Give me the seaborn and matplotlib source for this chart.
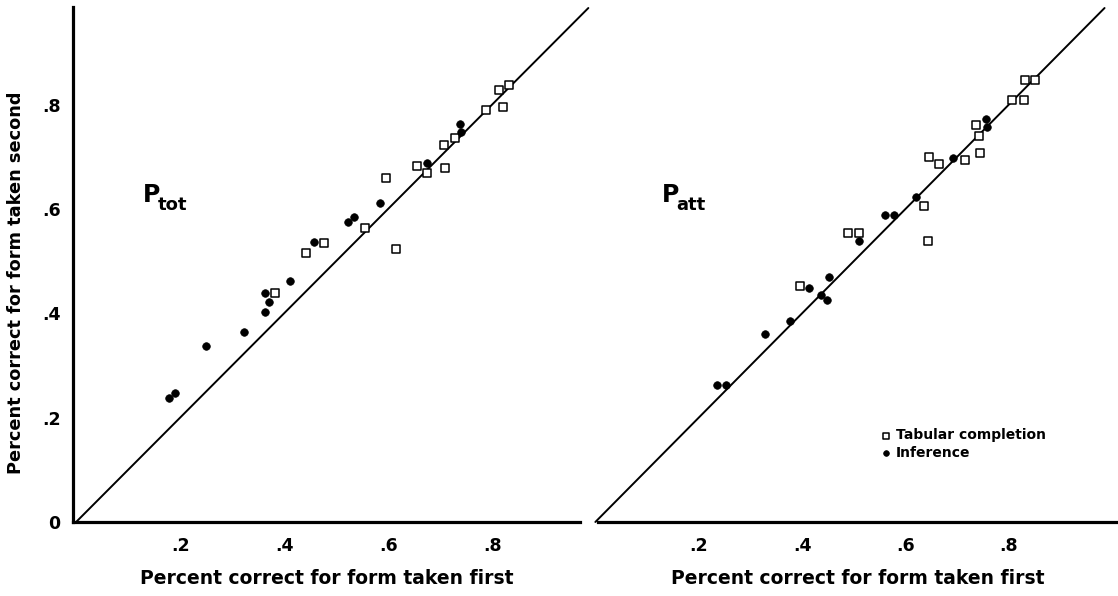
import matplotlib
matplotlib.use("Agg")
import matplotlib.pyplot as plt
import seaborn as sns
import pandas as pd

# values (proportion correct)
ptot_inf_first = [0.179, 0.190, 0.250, 0.323, 0.364, 0.371, 0.364, 0.411, 0.458, 0.523, 0.535, 0.584, 0.674, 0.739, 0.741]
ptot_inf_second = [0.237, 0.247, 0.337, 0.365, 0.403, 0.421, 0.438, 0.462, 0.536, 0.575, 0.584, 0.612, 0.688, 0.762, 0.747]
ptot_tab_first = [0.382, 0.443, 0.476, 0.555, 0.616, 0.595, 0.655, 0.674, 0.709, 0.707, 0.728, 0.788, 0.813, 0.832, 0.820]
ptot_tab_second = [0.438, 0.516, 0.534, 0.564, 0.524, 0.659, 0.683, 0.669, 0.679, 0.723, 0.735, 0.789, 0.828, 0.837, 0.796]

patt_inf_first = [0.235, 0.252, 0.328, 0.376, 0.413, 0.451, 0.437, 0.449, 0.510, 0.560, 0.577, 0.620, 0.692, 0.756, 0.757]
patt_inf_second = [0.262, 0.262, 0.361, 0.386, 0.448, 0.469, 0.435, 0.425, 0.539, 0.589, 0.589, 0.623, 0.697, 0.772, 0.757]
patt_tab_first = [0.396, 0.489, 0.510, 0.635, 0.643, 0.646, 0.665, 0.715, 0.744, 0.742, 0.736, 0.806, 0.829, 0.831, 0.850]
patt_tab_second = [0.452, 0.553, 0.553, 0.605, 0.539, 0.699, 0.686, 0.693, 0.708, 0.740, 0.761, 0.808, 0.808, 0.847, 0.847]

x_ticks = [0.2, 0.4, 0.6, 0.8]
x_ticklabels = [".2", ".4", ".6", ".8"]
y_ticks = [0, 0.2, 0.4, 0.6, 0.8]
y_ticklabels = ["0", ".2", ".4", ".6", ".8"]
diag = [0, 0.985]

tab = pd.DataFrame({
    "panel": ["tot"] * len(ptot_tab_first) + ["att"] * len(patt_tab_first),
    "first": ptot_tab_first + patt_tab_first,
    "second": ptot_tab_second + patt_tab_second,
})
inf = pd.DataFrame({
    "panel": ["tot"] * len(ptot_inf_first) + ["att"] * len(patt_inf_first),
    "first": ptot_inf_first + patt_inf_first,
    "second": ptot_inf_second + patt_inf_second,
})

sns.set_style("white", {"axes.edgecolor": "black", "text.color": "black",
                        "axes.labelcolor": "black", "xtick.color": "black",
                        "ytick.color": "black"})
plt.rcParams["font.family"] = ["DejaVu Sans"]
plt.rcParams["font.weight"] = "bold"

fig = plt.figure(figsize=(11.18, 5.96), dpi=100)
ax1 = fig.add_axes([0.0653, 0.1242, 0.4535, 0.8641])
ax2 = fig.add_axes([0.5353, 0.1242, 0.4647, 0.8641])

for ax, key, name in [(ax1, "tot", "tot"), (ax2, "att", "att")]:
    ax.plot(diag, diag, color="black", lw=1.4, clip_on=False, zorder=1)
    sns.scatterplot(data=tab[tab.panel == key], x="first", y="second", ax=ax,
                    marker="s", s=30, color="white", edgecolor="black", linewidth=1.1,
                    label="Tabular completion", zorder=3)
    sns.scatterplot(data=inf[inf.panel == key], x="first", y="second", ax=ax,
                    marker="o", s=30, color="black", edgecolor="black", linewidth=0.5,
                    label="Inference", zorder=3)
    ax.set_ylim(0, 0.987)
    ax.set_xticks(x_ticks)
    ax.set_xticklabels(x_ticklabels, fontsize=12.5, fontweight="bold")
    ax.tick_params(axis="x", direction="out", length=6, width=2, pad=5, colors="black")
    ax.set_xlabel("Percent correct for form taken first", fontsize=13.5,
                  fontweight="bold", labelpad=10, color="black")
    for side in ["top", "right"]:
        ax.spines[side].set_visible(False)
    ax.spines["bottom"].set_linewidth(2.3)
    ax.spines["bottom"].set_color("black")
    ax.set_facecolor("white")
    ax.text(0.128, 0.613, "P", fontsize=17, fontweight="bold", va="baseline", color="black")
    ax.annotate(name, xy=(0.128, 0.613), xytext=(10.8, -5.8), textcoords="offset points",
                fontsize=13, fontweight="bold", va="baseline", color="black")

ax1.set_xlim(-0.006, 0.969)
ax1.spines["left"].set_linewidth(2.3)
ax1.spines["left"].set_color("black")
ax1.set_yticks(y_ticks)
ax1.set_yticklabels(y_ticklabels, fontsize=12.5, fontweight="bold")
ax1.tick_params(axis="y", direction="out", length=6, width=2, pad=3, colors="black")
ax1.set_ylabel("Percent correct for form taken second", fontsize=12.8,
               fontweight="bold", color="black")
ax1.yaxis.set_label_coords(-0.095, 0.465)
ax1.get_legend().remove()

ax2.set_xlim(0.006, 1.011)
ax2.spines["left"].set_visible(False)
ax2.set_yticks([])
ax2.set_ylabel("")
ax2.legend(loc="upper left", bbox_to_anchor=(0.53, 0.195), frameon=False,
           prop={"size": 10, "weight": "bold"}, handletextpad=0.3, handlelength=0.8,
           borderpad=0, labelspacing=0.25, markerscale=0.75, labelcolor="black")

fig.savefig("out.png", dpi=100, facecolor="white")
